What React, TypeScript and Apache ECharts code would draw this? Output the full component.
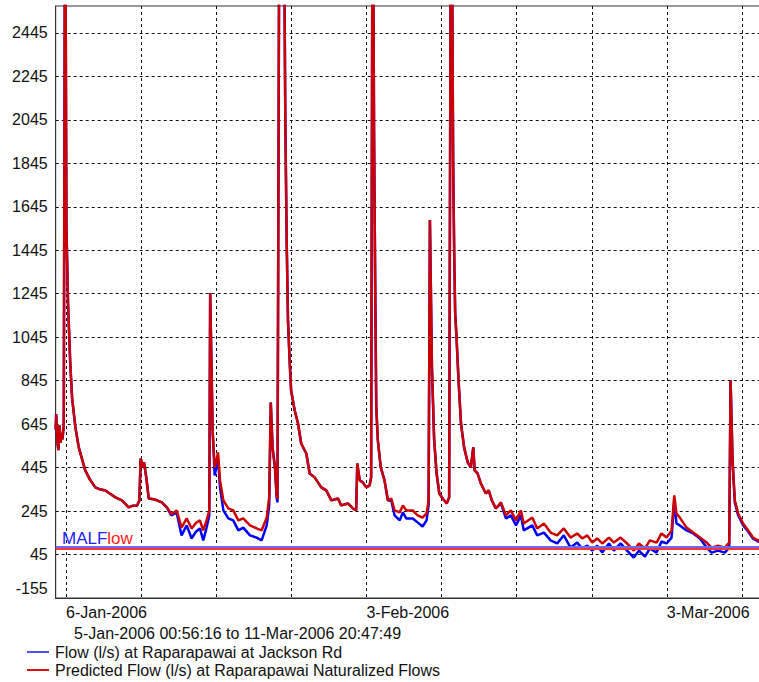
import React, { useEffect, useRef } from "react";
import * as echarts from "echarts";

const FONT = "'Liberation Sans', Arial, sans-serif";

// Sample times (local time)
const sampleTimes: string[] = [
  "2006-01-05 00:56:16", "2006-01-05 02:00", "2006-01-05 05:00", "2006-01-05 07:00", "2006-01-05 09:30", "2006-01-05 12:00", "2006-01-05 14:00", "2006-01-05 16:00", "2006-01-05 19:00", "2006-01-05 22:00",
  "2006-01-06 01:00", "2006-01-06 04:30", "2006-01-06 09:30", "2006-01-06 13:30", "2006-01-06 21:00", "2006-01-07 04:30", "2006-01-07 19:00", "2006-01-08 05:30", "2006-01-08 17:30", "2006-01-09 04:00",
  "2006-01-09 16:00", "2006-01-10 02:30", "2006-01-10 14:30", "2006-01-11 05:00", "2006-01-11 20:00", "2006-01-12 06:00", "2006-01-12 15:00", "2006-01-12 20:00", "2006-01-12 23:00", "2006-01-13 03:30",
  "2006-01-13 06:30", "2006-01-13 11:30", "2006-01-13 17:00", "2006-01-14 07:30", "2006-01-14 22:30", "2006-01-15 10:00", "2006-01-15 19:30", "2006-01-16 07:30", "2006-01-16 18:30", "2006-01-17 06:00",
  "2006-01-17 17:00", "2006-01-18 02:30", "2006-01-18 11:30", "2006-01-18 19:00", "2006-01-19 02:30", "2006-01-19 08:30", "2006-01-19 10:30", "2006-01-19 16:00", "2006-01-19 20:30", "2006-01-19 23:30",
  "2006-01-20 04:00", "2006-01-20 08:30", "2006-01-20 16:00", "2006-01-21 03:00", "2006-01-21 14:00", "2006-01-22 01:30", "2006-01-22 12:30", "2006-01-23 03:30", "2006-01-23 18:30", "2006-01-24 05:30",
  "2006-01-24 17:00", "2006-01-24 22:30", "2006-01-25 02:00", "2006-01-25 06:00", "2006-01-25 11:30", "2006-01-25 15:00", "2006-01-25 17:00", "2006-01-25 21:00", "2006-01-26 03:00", "2006-01-26 08:30",
  "2006-01-26 10:30", "2006-01-26 13:30", "2006-01-26 16:30", "2006-01-26 20:30", "2006-01-26 23:30", "2006-01-27 07:30", "2006-01-27 15:00", "2006-01-27 22:00", "2006-01-28 09:30", "2006-01-28 17:00",
  "2006-01-29 04:00", "2006-01-29 19:00", "2006-01-30 06:00", "2006-01-30 17:30", "2006-01-31 08:30", "2006-01-31 15:30", "2006-02-01 06:30", "2006-02-01 18:00", "2006-02-02 01:00", "2006-02-02 03:30",
  "2006-02-02 09:00", "2006-02-02 16:00", "2006-02-02 23:30", "2006-02-03 07:00", "2006-02-03 10:30", "2006-02-03 14:00", "2006-02-03 17:00", "2006-02-03 19:30", "2006-02-03 22:00", "2006-02-04 01:30",
  "2006-02-04 08:00", "2006-02-04 16:30", "2006-02-05 00:00", "2006-02-05 07:30", "2006-02-05 15:00", "2006-02-06 02:30", "2006-02-06 09:30", "2006-02-06 17:00", "2006-02-07 07:30", "2006-02-07 18:30",
  "2006-02-08 05:30", "2006-02-08 14:30", "2006-02-08 19:00", "2006-02-08 22:00", "2006-02-09 02:30", "2006-02-09 07:30", "2006-02-09 13:00", "2006-02-09 19:00", "2006-02-10 02:30", "2006-02-10 11:30",
  "2006-02-10 17:00", "2006-02-10 21:30", "2006-02-11 02:00", "2006-02-11 04:30", "2006-02-11 06:30", "2006-02-11 09:30", "2006-02-11 14:00", "2006-02-11 19:30", "2006-02-12 02:30", "2006-02-12 10:30",
  "2006-02-12 17:30", "2006-02-12 23:00", "2006-02-13 02:00", "2006-02-13 08:30", "2006-02-13 16:00", "2006-02-14 03:00", "2006-02-14 09:30", "2006-02-14 16:30", "2006-02-15 01:30", "2006-02-15 13:00",
  "2006-02-16 00:00", "2006-02-16 11:00", "2006-02-16 22:30", "2006-02-17 09:30", "2006-02-17 16:00", "2006-02-18 11:00", "2006-02-18 22:00", "2006-02-19 13:00", "2006-02-20 04:00", "2006-02-20 18:30",
  "2006-02-21 09:30", "2006-02-22 00:30", "2006-02-22 15:30", "2006-02-23 02:30", "2006-02-23 14:00", "2006-02-24 01:00", "2006-02-24 12:00", "2006-02-24 23:30", "2006-02-25 14:30", "2006-02-26 01:30",
  "2006-02-26 16:30", "2006-02-27 07:00", "2006-02-27 22:00", "2006-02-28 09:30", "2006-02-28 23:00", "2006-03-01 10:00", "2006-03-02 01:00", "2006-03-02 12:00", "2006-03-02 23:30", "2006-03-03 10:30",
  "2006-03-03 14:00", "2006-03-03 16:30", "2006-03-03 21:30", "2006-03-04 05:00", "2006-03-04 20:00", "2006-03-05 11:00", "2006-03-06 02:00", "2006-03-06 17:00", "2006-03-07 04:00", "2006-03-07 18:30",
  "2006-03-08 09:30", "2006-03-08 19:30", "2006-03-08 22:30", "2006-03-09 03:00", "2006-03-09 08:00", "2006-03-09 15:30", "2006-03-10 02:30", "2006-03-10 14:00", "2006-03-11 01:00", "2006-03-11 12:00",
  "2006-03-11 20:47:49",
];

// Flow (l/s) at Raparapawai at Jackson Rd (blue)
const observedFlow: number[] = [
  620, 690, 560, 525, 640, 560, 600, 575, 640, 3300,
  1550, 1200, 925, 768, 630, 538, 432, 390, 354, 345,
  340, 325, 308, 294, 262, 270, 271, 294, 487, 446,
  469, 400, 303, 298, 285, 260, 225, 239, 133, 179,
  119, 150, 165, 110, 169, 225, 1247, 616, 409, 440,
  487, 354, 248, 211, 202, 156, 169, 133, 123, 110,
  179, 271, 745, 538, 440, 310, 285, 3000, 3200, 2700,
  2058, 1500, 1123, 925, 800, 708, 648, 556, 510, 418,
  400, 354, 340, 294, 303, 271, 280, 257, 248, 464,
  386, 377, 354, 363, 400, 3500, 2000, 1307, 722, 570,
  446, 386, 294, 295, 225, 202, 239, 211, 211, 193,
  174, 202, 271, 1584, 907, 570, 418, 326, 303, 280,
  308, 3600, 1845, 1400, 1155, 1045, 847, 648, 538, 469,
  446, 538, 432, 418, 372, 326, 340, 294, 257, 280,
  211, 225, 179, 225, 156, 179, 133, 146, 110, 96,
  133, 77, 100, 73, 86, 63, 86, 54, 96, 63,
  96, 63, 31, 63, 35, 73, 54, 105, 96, 123,
  220, 294, 188, 179, 156, 142, 119, 77, 54, 63,
  54, 77, 847, 470, 285, 225, 180, 150, 118, 105,
  100,
];

// Predicted Flow (l/s) at Raparapawai Naturalized Flows (red)
const predictedFlow: number[] = [
  620, 690, 560, 525, 640, 560, 600, 575, 640, 3300,
  1550, 1200, 925, 768, 630, 538, 432, 390, 354, 345,
  340, 325, 308, 294, 262, 270, 271, 294, 487, 446,
  469, 400, 303, 298, 285, 262, 230, 248, 169, 211,
  165, 190, 202, 156, 202, 248, 1247, 616, 446, 470,
  515, 386, 294, 257, 248, 202, 211, 179, 165, 156,
  215, 308, 745, 538, 446, 326, 300, 3000, 3200, 2700,
  2058, 1500, 1123, 925, 800, 708, 648, 556, 510, 418,
  400, 354, 340, 294, 303, 271, 280, 257, 248, 464,
  386, 377, 354, 363, 400, 3500, 2000, 1307, 722, 570,
  446, 386, 294, 303, 248, 239, 271, 248, 248, 225,
  215, 234, 294, 1584, 907, 570, 418, 326, 303, 280,
  308, 3600, 1845, 1400, 1155, 1045, 847, 648, 538, 469,
  446, 538, 432, 418, 372, 326, 340, 294, 257, 285,
  225, 248, 202, 248, 188, 215, 165, 188, 146, 133,
  165, 123, 142, 119, 133, 100, 119, 96, 123, 100,
  123, 96, 63, 96, 73, 110, 100, 142, 123, 156,
  248, 317, 234, 215, 169, 146, 123, 100, 77, 86,
  77, 100, 847, 478, 294, 234, 188, 156, 123, 110,
  105,
];

const seriesNames = [
  "Flow (l/s) at Raparapawai at Jackson Rd",
  "Predicted Flow (l/s) at Raparapawai Naturalized Flows",
];
const seriesColors = ["#0000ff", "#cc0000"];
const legendColors = ["#5050ff", "#e01010"];
const malfObserved = 79;
const malfPredicted = 71;
const yMin = -155;
const yMax = 2569;
const yTickValues = [-155, 45, 245, 445, 645, 845, 1045, 1245, 1445, 1645, 1845, 2045, 2245, 2445];
const weekTicks = ["2006-01-06", "2006-01-13", "2006-01-20", "2006-01-27", "2006-02-03", "2006-02-10", "2006-02-17", "2006-02-24", "2006-03-03", "2006-03-10"];
const dateLabelTicks = ["2006-01-06", "2006-02-03", "2006-03-03"];
const periodText = "5-Jan-2006 00:56:16 to 11-Mar-2006 20:47:49";
const MONTHS = ["Jan", "Feb", "Mar", "Apr", "May", "Jun", "Jul", "Aug", "Sep", "Oct", "Nov", "Dec"];

function toMs(s: string): number {
  const [d, t = "00:00"] = s.split(" ");
  const [Y, M, D] = d.split("-").map(Number);
  const [h, m, sec] = t.split(":").map(Number);
  return new Date(Y, M - 1, D, h || 0, m || 0, sec || 0).getTime();
}

function fmtDate(v: number): string {
  const d = new Date(v);
  return `${d.getDate()}-${MONTHS[d.getMonth()]}-${d.getFullYear()}`;
}

export default function App() {
  const ref = useRef<HTMLDivElement>(null);

  useEffect(() => {
    document.body.style.margin = "0";
    if (!ref.current) return;
    const chart = echarts.init(ref.current, null, { renderer: "svg" });
    const start = toMs(sampleTimes[0]);
    const end = toMs(sampleTimes[sampleTimes.length - 1]);
    const dash = { type: [3, 3] as any, color: "#111", width: 1 };

    const legendFor = (i: number, top: number) => ({
      orient: "horizontal",
      left: 22,
      top,
      itemWidth: 22,
      itemHeight: 2,
      icon: "rect",
      itemGap: 0,
      data: [{ name: seriesNames[i], itemStyle: { color: legendColors[i] } }],
      textStyle: { fontSize: 16, color: "#111", fontFamily: FONT, padding: [0, 0, 0, 1] },
    });

    const option: any = {
      animation: false,
      backgroundColor: "#ffffff",
      textStyle: { fontFamily: FONT },
      grid: {
        left: 55.7,
        top: 6,
        right: -3,
        bottom: 84,
        show: true,
        borderColor: "#333",
        borderWidth: 1,
        containLabel: false,
        outerBoundsMode: "none",
      },
      legend: [legendFor(0, 639), legendFor(1, 657)],
      xAxis: {
        type: "value",
        min: start,
        max: end,
        axisLine: { show: true, onZero: false, lineStyle: { color: "#333", width: 1 } },
        axisTick: { show: false, customValues: weekTicks.map(toMs) },
        axisLabel: {
          customValues: dateLabelTicks.map(toMs),
          formatter: (v: number) => fmtDate(v),
          align: "left",
          margin: 6,
          fontSize: 16,
          color: "#111",
          fontFamily: FONT,
        },
        splitLine: { show: true, lineStyle: dash },
      },
      yAxis: {
        type: "value",
        min: yMin,
        max: yMax,
        axisLine: { show: true, onZero: false, lineStyle: { color: "#333", width: 1 } },
        axisTick: { show: false, customValues: yTickValues },
        axisLabel: {
          customValues: yTickValues,
          formatter: (v: number) => (v === yMin ? `${v}\n ` : `${v}`),
          margin: 8,
          fontSize: 16,
          lineHeight: 20,
          color: "#111",
          fontFamily: FONT,
        },
        splitLine: { show: true, lineStyle: dash },
      },
      series: [
        {
          name: seriesNames[0],
          type: "line",
          data: sampleTimes.map((t, i) => [toMs(t), observedFlow[i]]),
          symbol: "none",
          showSymbol: false,
          lineStyle: { color: seriesColors[0], width: 2.5 },
          itemStyle: { color: seriesColors[0] },
          markLine: {
            silent: true,
            symbol: "none",
            label: { show: false },
            lineStyle: { color: "#6a6aff", width: 2, type: "solid" },
            data: [{ yAxis: malfObserved }],
          },
        },
        {
          name: seriesNames[1],
          type: "line",
          data: sampleTimes.map((t, i) => [toMs(t), predictedFlow[i]]),
          symbol: "none",
          showSymbol: false,
          lineStyle: { color: seriesColors[1], width: 2.5 },
          itemStyle: { color: seriesColors[1] },
          markLine: {
            silent: true,
            symbol: "none",
            label: { show: false },
            lineStyle: { color: "#ff3333", width: 2, type: "solid" },
            data: [{ yAxis: malfPredicted }],
          },
        },
      ],
      graphic: [
        {
          type: "text",
          x: 62,
          y: 538,
          z: 10,
          style: {
            text: "{a|MALF}{b|low}",
            verticalAlign: "middle",
            rich: {
              a: { fill: "#2222ff", fontSize: 17, fontFamily: FONT },
              b: { fill: "#ff2222", fontSize: 17, fontFamily: FONT },
            },
          },
        },
        {
          type: "text",
          x: 74,
          y: 633,
          style: {
            text: periodText,
            fill: "#111",
            fontSize: 16,
            fontFamily: FONT,
            verticalAlign: "middle",
          },
        },
      ],
    };

    chart.setOption(option);
    return () => chart.dispose();
  }, []);

  return (
    <div
      ref={ref}
      style={{ position: "fixed", left: 0, top: 0, width: 759, height: 682, background: "#fff" }}
    />
  );
}
